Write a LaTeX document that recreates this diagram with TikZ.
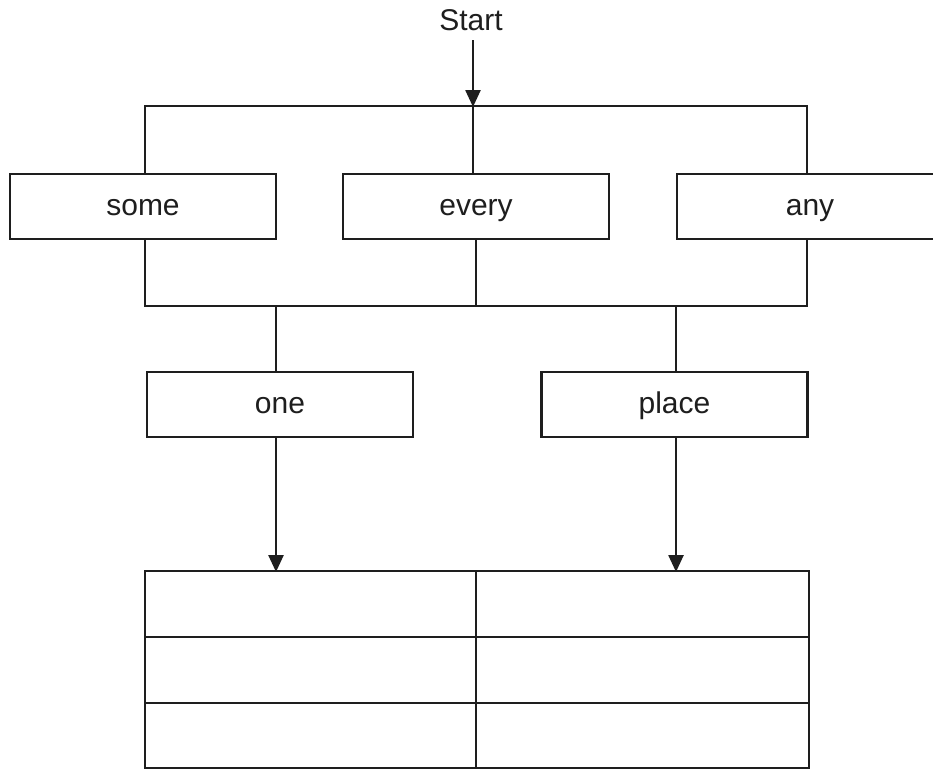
\documentclass[tikz,border=0pt]{standalone}
\usepackage{fontspec}
\setmainfont{Liberation Sans}
\usetikzlibrary{arrows.meta}
\definecolor{ink}{HTML}{1E1E1E}
\begin{document}
\begin{tikzpicture}[x=1pt,y=-1pt,
  line width=2.5pt, draw=ink,
  box/.style={draw=ink, line width=2.5pt, minimum width=266pt, minimum height=65pt, inner sep=0pt, outer sep=0pt, font=\fontsize{30}{36}\selectfont, text=ink, text height=23.5pt, text depth=5pt},
  cell/.style={draw=ink, line width=2.5pt, minimum height=66pt, inner sep=0pt, outer sep=0pt},
  arr/.style={-{Triangle[length=17pt,width=15pt]}, draw=ink, line width=2.5pt, shorten >=-1pt},
  lbl/.style={font=\fontsize{30}{36}\selectfont, text=ink, inner sep=0pt, outer sep=0pt}]
\useasboundingbox[fill=white] (0,0) rectangle (933,769);
% labels and boxes
\node[lbl, minimum height=40pt] (start) at (471,20) {Start};
\node[box] (some)  at (143,206.5) {some};
\node[box] (every) at (476,206.5) {every};
\node[box] (any)   at (810,206.5) {any};
\node[box] (one)   at (280,404.5) {one};
\node[box] (place) at (674.5,404.5) {place};
% table cells
\node[cell, minimum width=331pt] (c11) at (310.5,604) {};
\node[cell, minimum width=333pt] (c12) at (642.5,604) {};
\node[cell, minimum width=331pt] (c21) at (310.5,670) {};
\node[cell, minimum width=333pt] (c22) at (642.5,670) {};
\node[cell, minimum width=331pt, minimum height=65pt] (c31) at (310.5,735.5) {};
\node[cell, minimum width=333pt, minimum height=65pt] (c32) at (642.5,735.5) {};
% junction coordinates
\coordinate (tl) at (145,106);
\coordinate (tm) at (473,106);
\coordinate (tr) at (807,106);
\coordinate (bl) at (145,306);
\coordinate (bm) at (476,306);
\coordinate (br) at (807,306);
\coordinate (b1) at (276,306);
\coordinate (b2) at (676,306);
% connectors
\draw[arr] (start.south -| tm) -- (tm);
\draw (tl |- some.north) -- (tl) -- (tr) -- (tr |- any.north);
\draw (tm) -- (tm |- every.north);
\draw (tl |- some.south) -- (bl) -- (br) -- (br |- any.south);
\draw (bm |- every.south) -- (bm);
\draw (b1) -- (b1 |- one.north);
\draw (b2) -- (b2 |- place.north);
\draw[arr] (b1 |- one.south) -- (b1 |- c11.north);
\draw[arr] (b2 |- place.south) -- (b2 |- c12.north);
\end{tikzpicture}
\end{document}
